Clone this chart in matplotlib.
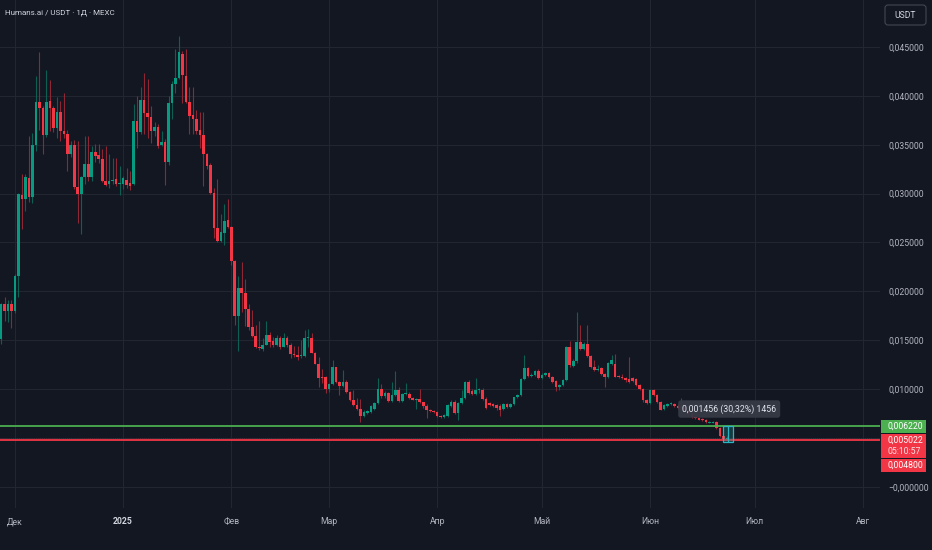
import numpy as np
import pandas as pd
import matplotlib
matplotlib.use("Agg")
import matplotlib.pyplot as plt
from matplotlib.patches import Rectangle, FancyBboxPatch
from matplotlib.transforms import IdentityTransform

plt.rcParams['font.family'] = ['Roboto', 'DejaVu Sans']

# daily candles Humans.ai / USDT, from 27 Nov 2024
start = pd.Timestamp('2024-11-27')

opens = [
    .0151, .0187, .0180, .0187, .0180, .0216, .0299, .0294, .0316, .0296,
    .0350, .0394, .0388, .0360, .0395, .0388, .0367, .0383, .0364, .0361,
    .0341, .0350, .0307, .0300, .0317, .0330, .0317, .0343, .0339, .0335,
    .0313, .0310, .0313, .0315, .0310, .0310, .0314, .0311, .0310, .0374,
    .0363, .0396, .0382, .0378, .0364, .0368, .0350, .0353, .0332, .0393,
    .0412, .0418, .0443, .0420, .0394, .0380, .0376, .0365, .0360, .0340,
    .0329, .0301, .0265, .0251, .0260, .0273, .0266, .0231, .0175, .0203,
    .0198, .0182, .0163, .0154, .0143, .0141, .01455, .0155, .0149, .0145,
    .0152, .0143, .0152, .0145, .0136, .0135, .0134, .0134, .0152, .0152,
    .0137, .0126, .0112, .0112, .0100, .0105, .0122, .0107, .0103, .0107,
    .0097, .0089, .0084, .0080, .0072, .0075, .0076, .0080, .0086, .0100,
    .0093, .0096, .0088, .0094, .0099, .0088, .0095, .0095, .0091, .0089,
    .0090, .0087, .0083, .0079, .0077, .0076, .0072, .0071, .0072, .0083,
    .0087, .0075, .0086, .0091, .0107, .0098, .0095, .0099, .0099, .0090,
    .0086, .0085, .0084, .0083, .0080, .0085, .0082, .0085, .0092, .0094,
    .0110, .0121, .0113, .0114, .0118, .0111, .0114, .0116, .0112, .0108,
    .0102, .0104, .0109, .0143, .0124, .0129, .0148, .0141, .0146, .0134,
    .0122, .0119, .0121, .0115, .0112, .0126, .0126, .0113, .0112, .0111,
    .0110, .0111, .0110, .0104, .0100, .0089, .0086, .0099, .0094, .0087,
    .0080, .0083, .0085, .0085, .0083, .0081, .0082, .0078, .0075, .0071,
    .0070, .0069, .0068, .0065, .0065, .0066, .0060, .0052, .0049,
]
closes = [
    .0187, .0180, .0187, .0180, .0216, .0300, .0294, .0317, .0296, .0350,
    .0394, .0388, .0360, .0394, .0388, .0367, .0383, .0364, .0361, .0341,
    .0350, .0307, .0300, .0317, .0330, .0317, .0343, .0338, .0335, .0313,
    .0309, .0313, .0314, .0310, .0311, .0316, .0309, .0308, .0374, .0363,
    .0396, .0382, .0378, .0364, .0368, .0349, .0353, .0332, .0393, .0412,
    .0418, .0445, .0421, .0394, .0379, .0376, .0364, .0360, .0340, .0328,
    .0301, .0265, .0251, .0261, .0272, .0266, .0231, .01745, .0203, .0198,
    .0182, .0163, .0154, .01425, .0142, .01455, .0155, .0148, .0145, .0152,
    .0143, .0152, .0145, .01357, .0135, .0133, .0135, .0152, .0153, .0137,
    .0126, .0111, .0111, .00997, .01048, .0122, .01075, .0103, .0107, .0097,
    .0089, .0084, .0080, .0072, .0076, .0077, .0083, .0086, .0100, .0093,
    .0096, .0088, .0094, .0099, .0088, .0095, .0096, .0091, .0089, .0090,
    .0087, .0083, .0079, .0077, .0076, .0072, .0071, .0073, .0084, .0087,
    .0075, .0086, .0091, .01075, .0096, .0095, .0099, .0100, .0090, .0081,
    .0084, .0083, .0081, .0079, .0085, .0082, .0085, .0092, .0094, .0110,
    .0121, .0113, .0114, .0118, .0111, .0114, .0116, .0112, .0107, .0102,
    .0104, .0109, .0143, .01245, .0129, .0148, .01405, .0146, .0134, .0122,
    .0119, .0120, .0115, .0112, .0127, .0130, .01125, .0112, .0111, .0109,
    .0107, .0108, .0104, .0100, .0089, .0086, .0099, .0094, .0087, .0079,
    .0084, .0085, .0086, .0083, .0081, .0082, .0078, .0074, .0071, .0070,
    .0068, .0068, .0066, .0066, .0066, .0060, .0052, .0049, .005022,
]
highs = [
    .0188, .0194, .0191, .0191, .0218, .0301, .0320, .0320, .0359, .0362,
    .0420, .0445, .0390, .0426, .0416, .0390, .0399, .0395, .0403, .0365,
    .0354, .0355, .0354, .0318, .0359, .0359, .0349, .0351, .0351, .0346,
    .0349, .0340, .0336, .0336, .0328, .0318, .0326, .0323, .0392, .0400,
    .0409, .0423, .0417, .0390, .0373, .0371, .0364, .0356, .0400, .0415,
    .0448, .0461, .0446, .0448, .0409, .0409, .0386, .0383, .0383, .0342,
    .0331, .0306, .0315, .0279, .0289, .0294, .0267, .0232, .0216, .0230,
    .0213, .0187, .0181, .0165, .0170, .0152, .0170, .0158, .0153, .0155,
    .0154, .0157, .0154, .0147, .0144, .0144, .0150, .0160, .0161, .0157,
    .0138, .0133, .0120, .0113, .0106, .0130, .0123, .0108, .0119, .0109,
    .0098, .0099, .0091, .0090, .0078, .0079, .0084, .0087, .0111, .0105,
    .0098, .0097, .0107, .0118, .0102, .0096, .0106, .0097, .0092, .0091,
    .0100, .0087, .0085, .0080, .0078, .0077, .0073, .0074, .0085, .0089,
    .0089, .0087, .0099, .0108, .0109, .0100, .0111, .0101, .0101, .0092,
    .0087, .0086, .0085, .0085, .0086, .0086, .0086, .0092, .0095, .0111,
    .0135, .0122, .0116, .0119, .0120, .0116, .0117, .0117, .0113, .0109,
    .0105, .0110, .0144, .0149, .0131, .0179, .0165, .0148, .0165, .0135,
    .0130, .0125, .0122, .0116, .0128, .0135, .0136, .0114, .0115, .0112,
    .0133, .0112, .0111, .0105, .0101, .0090, .0100, .0100, .0095, .0088,
    .0085, .0086, .0087, .0086, .0085, .0091, .0083, .0079, .0075, .0072,
    .0071, .0070, .0069, .0067, .0067, .0067, .0061, .0053, .0052,
]
lows = [
    .0146, .0170, .0169, .0162, .0178, .0194, .0264, .0282, .0291, .0290,
    .0344, .0365, .0341, .0358, .0364, .0363, .0357, .0354, .0357, .0323,
    .0337, .0305, .0270, .0259, .0310, .0313, .0313, .0332, .0331, .0312,
    .0308, .0306, .0310, .0308, .0299, .0305, .0306, .0304, .0309, .0347,
    .0361, .0361, .0357, .0352, .0359, .0347, .0349, .0309, .0329, .0376,
    .0403, .0417, .0393, .0393, .0361, .0361, .0361, .0347, .0308, .0325,
    .0300, .0255, .0250, .0250, .0247, .0265, .0227, .0165, .0139, .0179,
    .0164, .0160, .0153, .0142, .0140, .0139, .0145, .0143, .0143, .0144,
    .0141, .0143, .0143, .0132, .0133, .0130, .0132, .0133, .0143, .0137,
    .0126, .0102, .0106, .0096, .0097, .0104, .0106, .0094, .0102, .0096,
    .0088, .0083, .0079, .0066, .0071, .0074, .0075, .0079, .0085, .0091,
    .0091, .0087, .0087, .0093, .0087, .0087, .0094, .0090, .0089, .0080,
    .0086, .0081, .0070, .0076, .0075, .0071, .0070, .0070, .0071, .0082,
    .0074, .0068, .0085, .0090, .0095, .0094, .0094, .0096, .0089, .0080,
    .0083, .0082, .0079, .0072, .0079, .0081, .0081, .0084, .0091, .0093,
    .0109, .0112, .0112, .0113, .0110, .0110, .0113, .0111, .0106, .0098,
    .0099, .0103, .0108, .0123, .0123, .0127, .0140, .0140, .0133, .0121,
    .0118, .0118, .0114, .0102, .0111, .0125, .0112, .0111, .0110, .0107,
    .0106, .0107, .0103, .0099, .0087, .0085, .0085, .0093, .0086, .0078,
    .0079, .0082, .0084, .0082, .0080, .0080, .0077, .0073, .0070, .0069,
    .0068, .0067, .0065, .0065, .0065, .0059, .0051, .0048, .0048,
]
assert len(opens) == len(closes) == len(highs) == len(lows)

price_ticks = [0.0, 0.005, 0.010, 0.015, 0.020, 0.025, 0.030, 0.035, 0.040, 0.045]
price_labels = ['\u22120,000000', '', '0,010000', '0,015000', '0,020000', '0,025000',
                '0,030000', '0,035000', '0,040000', '0,045000']
month_starts = pd.date_range('2024-12-01', '2025-08-01', freq='MS')
month_labels = ['Дек', '2025', 'Фев', 'Мар', 'Апр', 'Май', 'Июн', 'Июл', 'Авг']

level_green = 0.006220
level_red = 0.004800
last_price = 0.005022
measure_lo, measure_hi = 0.0046, 0.0062

# colours
bg = '#131722'
grid_c = '#222631'
up_c, down_c = '#089981', '#f23645'
up_wick, down_wick = '#0c5f52', '#8e2734'
txt_c = '#b2b5be'

W, H = 932, 550
fig = plt.figure(figsize=(W / 100, H / 100), dpi=100, facecolor=bg)
ax = fig.add_axes([0, 42 / H, 880 / W, 508 / H], facecolor=bg)

o = np.array(opens)
c = np.array(closes)
hi = np.array(highs)
lo = np.array(lows)
x = np.arange(len(o))
up = c >= o

ax.vlines(x[up], lo[up], hi[up], color=up_wick, lw=0.8, zorder=2)
ax.vlines(x[~up], lo[~up], hi[~up], color=down_wick, lw=0.8, zorder=2)
body = np.maximum(np.abs(c - o), 0.00004)
ax.bar(x[up], body[up], bottom=np.minimum(o, c)[up], width=0.75, color=up_c, zorder=3, linewidth=0)
ax.bar(x[~up], body[~up], bottom=np.minimum(o, c)[~up], width=0.75, color=down_c, zorder=3, linewidth=0)

# levels
ax.axhline(level_green, color='#4caf50', lw=1.3, zorder=4)
ax.axhline(level_red, color='#f23645', lw=1.3, zorder=4)
ax.axhline(last_price, color='#f23645', lw=0.5, ls=(0, (1, 2)), alpha=0.35, zorder=4)

# measure tool on the last candle
mx0, mx1 = len(o) - 2.1, len(o) + 0.7
ax.add_patch(Rectangle((mx0, measure_lo), mx1 - mx0, measure_hi - measure_lo,
                       facecolor='#26a69a', alpha=0.25, edgecolor='none', zorder=5))
ax.add_patch(Rectangle((mx0, measure_lo), mx1 - mx0, measure_hi - measure_lo,
                       facecolor='none', edgecolor='#2bb5c4', lw=0.9, zorder=6))
mxc = (mx0 + mx1) / 2
ax.vlines(mxc, measure_lo, measure_hi, color='#2bb5c4', lw=0.9, zorder=6)
ax.text(195.2, 0.00795, '0,001456 (30,32%) 1456', fontsize=6.3, color='#e0e3eb',
        va='center', ha='left', zorder=7,
        bbox=dict(boxstyle='round,pad=0.45,rounding_size=0.3', fc='#363a45', ec='none', alpha=0.95))

# axes
ax.set_xlim(-0.29, 251.9)
ax.set_ylim(-0.00218, 0.04981)
month_x = [(d - start).days for d in month_starts]
ax.set_xticks(month_x)
ax.set_xticklabels(month_labels)
ax.yaxis.tick_right()
ax.set_yticks(price_ticks)
ax.set_yticklabels(price_labels)
ax.tick_params(axis='both', length=0, colors=txt_c, labelsize=6.2)
ax.tick_params(axis='x', pad=6.5)
ax.tick_params(axis='y', pad=6)
for lab in ax.get_xticklabels():
    if lab.get_text() == '2025':
        lab.set_fontweight('bold')
        lab.set_color('#d1d4dc')
ax.grid(True, color=grid_c, lw=0.8, zorder=0)
for s in ax.spines.values():
    s.set_visible(False)

# price label boxes on the right scale (pixel coords, top-left origin)
def px_rect(x0, y0, x1, y1, **kw):
    fig.add_artist(Rectangle((x0, H - y1), x1 - x0, y1 - y0, transform=IdentityTransform(), **kw))

def px_text(px, py, s, **kw):
    fig.text(px / W, 1 - py / H, s, va='center', ha='left', **kw)

px_rect(881, 420, 926, 433, facecolor='#4caf50', edgecolor='none')
px_text(887, 426.5, '0,006220', fontsize=6.2, color='white')
px_rect(881, 433.5, 926, 458, facecolor='#f23645', edgecolor='none')
px_text(887, 440, '0,005022', fontsize=6.2, color='white')
px_text(887, 451, '05:10:57', fontsize=6.2, color='#ffe0e3')
px_rect(881, 458.5, 926, 472, facecolor='#f23645', edgecolor='none')
px_text(887, 465, '0,004800', fontsize=6.2, color='white')

# title + currency button
px_text(5, 13, 'Humans.ai / USDT \u00b7 1Д \u00b7 MEXC', fontsize=5.8, color='#d1d4dc')
fig.add_artist(FancyBboxPatch((885, H - 25), 41, 20, boxstyle='round,pad=0,rounding_size=3',
                              transform=IdentityTransform(), facecolor=bg,
                              edgecolor='#434651', lw=0.8))
fig.text(905.5 / W, 1 - 15 / H, 'USDT', fontsize=6.2, color='#d1d4dc', ha='center', va='center')

fig.savefig('out.png', dpi=100, facecolor=bg)
